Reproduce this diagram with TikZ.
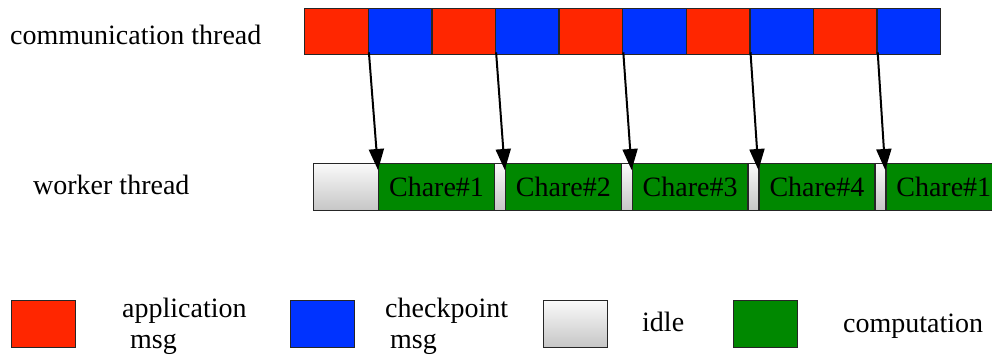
\documentclass[tikz,border=0pt]{standalone}
\usepackage{fontspec}
\setmainfont{Liberation Serif}
\usetikzlibrary{positioning, arrows.meta, calc}
\definecolor{appred}{RGB}{255,38,0}
\definecolor{ckpblue}{RGB}{0,51,255}
\definecolor{compgreen}{RGB}{0,136,0}

\tikzset{
  cell/.style={draw=black!85, line width=1.3pt, inner sep=0pt, anchor=north west},
  msgbox/.style={cell, minimum width=63.6pt, minimum height=46pt},
  chare/.style={cell, fill=compgreen, minimum width=115.8pt, minimum height=47pt},
  idle/.style={cell, top color=gray!4, bottom color=gray!45, minimum height=47pt},
  keybox/.style={cell, minimum width=64pt, minimum height=47pt},
  label/.style={anchor=west, inner sep=0pt, align=left}
}

\begin{document}
\begin{tikzpicture}[>=Stealth, x=1pt, y=-1pt, font=\fontsize{28}{31}\selectfont]
      \useasboundingbox (0,0) rectangle (992,358);

      % Communication thread
      \node[label] (commlbl) at (10,35) {communication thread};
      \foreach \i/\col in {1/appred,2/ckpblue,3/appred,4/ckpblue,5/appred,
                           6/ckpblue,7/appred,8/ckpblue,9/appred,10/ckpblue}
        \node[msgbox, fill=\col] (c\i) at ({304+(\i-1)*63.6},8) {};

      % Worker thread
      \node[label] (worklbl) at (33,185) {worker thread};
      \node[idle, minimum width=65pt] (i0) at (313,163) {};
      \foreach \k in {1,...,5}
        \node[chare] (w\k) at ({378+(\k-1)*126.8},163) {\ifnum\k=5 Chare\#1\else Chare\#\k\fi};
      \foreach \k in {1,...,4}
        \node[idle, minimum width=11pt] (i\k) at ({493.8+(\k-1)*126.8},163) {};

      % Messages delivered to the worker
      \foreach \s/\t in {1/1,3/2,5/3,7/4,9/5}
        \draw[line width=2pt, -{Triangle[length=21pt,width=15pt]}]
          ([yshift=3pt]c\s.south east) -- ([yshift=-7pt]w\t.north west);

      % Legend
      \node[keybox, fill=appred] (kapp) at (11,300) {};
      \node[label] (tapp) at (122,326) {application\\\hspace*{8pt}msg};
      \node[keybox, fill=ckpblue] (kckp) at (290,300) {};
      \node[label] (tckp) at (385,326) {checkpoint\\\hspace*{5pt}msg};
      \node[keybox, top color=gray!4, bottom color=gray!45] (kidle) at (543,300) {};
      \node[label] (tidle) at (642,322) {idle};
      \node[keybox, fill=compgreen] (kcomp) at (733,300) {};
      \node[label] (tcomp) at (843,326) {computation};
    \end{tikzpicture}
\end{document}
